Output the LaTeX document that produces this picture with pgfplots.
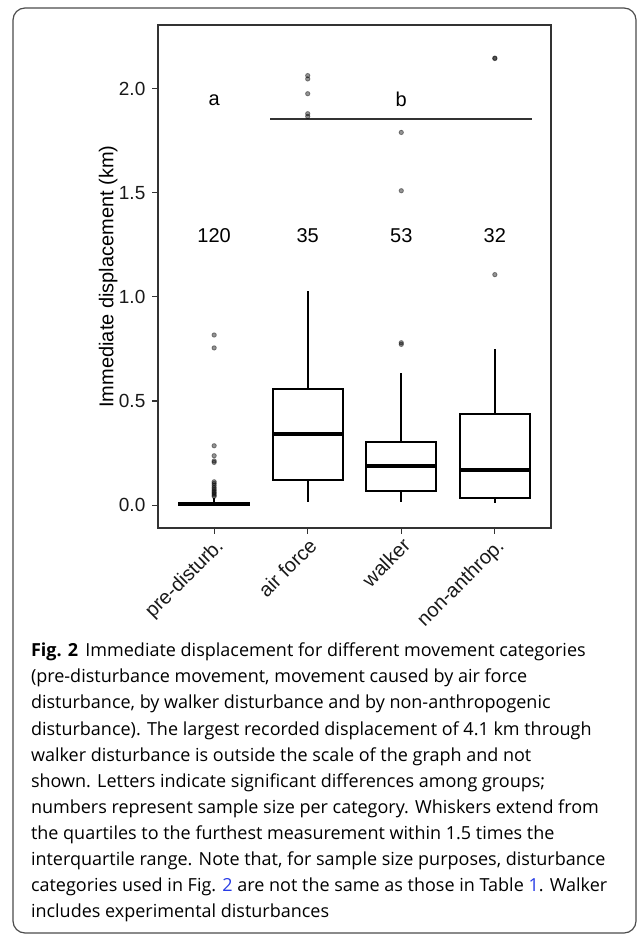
\documentclass[border=0pt]{standalone}
\usepackage{pgfplots}
\pgfplotsset{compat=1.18}
\usepgfplotslibrary{statistics}
\usepackage{fontspec}
\setmainfont{Liberation Sans}
\newfontfamily\capfont{Open Sans}
\definecolor{linkblue}{RGB}{40,60,230}
\definecolor{frame}{RGB}{51,51,51}
\begin{document}
\begin{tikzpicture}
\useasboundingbox (0,0) rectangle (318.5pt,-467.5pt);
\draw[rounded corners=6pt, line width=0.6pt, black!70] (6.5pt,-4pt) rectangle (318pt,-466.5pt);
\begin{axis}[
  at={(79pt,-264pt)}, anchor=south west,
  scale only axis, width=196.5pt, height=251.5pt,
  xmin=0.4, xmax=4.6, ymin=-0.11, ymax=2.306,
  xtick={1,2,3,4},
  xticklabels={pre-disturb., air force, walker, non-anthrop.},
  ytick={0,0.5,1,1.5,2},
  /pgf/number format/assume math mode=true,
  yticklabel style={font=\fontsize{9.5}{11}\selectfont, text=black!90, /pgf/number format/.cd, fixed, fixed zerofill, precision=1},
  xticklabel style={rotate=45, anchor=north east, font=\fontsize{10}{12}\selectfont, text=black!90, inner sep=1pt},
  tick align=outside, xtick pos=left, ytick pos=left,
  major tick length=2.8pt,
  every tick/.style={frame, line width=0.55pt},
  axis line style={frame, line width=0.65pt},
  ylabel={Immediate displacement (km)},
  every axis y label/.style={at={(axis description cs:-0.127,0.5)}, rotate=90, anchor=center, font=\fontsize{10}{12}\selectfont},
  clip=false,
  boxplot/draw direction=y,
  boxplot/box extend=0.75,
  boxplot/whisker extend=0,
  boxplot/every median/.style={line width=2pt},
]
% boxes
\addplot[black, line width=1pt, boxplot prepared={draw position=1, lower whisker=0.0, lower quartile=0.0, median=0.004, upper quartile=0.012, upper whisker=0.034}] coordinates {};
\addplot[black, line width=1pt, boxplot prepared={draw position=2, lower whisker=0.016, lower quartile=0.120, median=0.340, upper quartile=0.556, upper whisker=1.03}] coordinates {};
\addplot[black, line width=1pt, boxplot prepared={draw position=3, lower whisker=0.016, lower quartile=0.069, median=0.186, upper quartile=0.304, upper whisker=0.636}] coordinates {};
\addplot[black, line width=1pt, boxplot prepared={draw position=4, lower whisker=0.008, lower quartile=0.032, median=0.167, upper quartile=0.436, upper whisker=0.75}] coordinates {};
% outliers
\addplot[only marks, mark=*, mark size=1.1pt, draw=none, fill=black, opacity=0.42, mark options={draw=none, fill=black}] coordinates {
(1,0.817) (1,0.755) (1,0.285) (1,0.237) (1,0.212) (1,0.205) (1,0.112) (1,0.104) (1,0.095) (1,0.085) (1,0.077) (1,0.069) (1,0.062) (1,0.055) (1,0.048) (1,0.042)
(2,2.063) (2,2.047) (2,1.976) (2,1.880) (2,1.867)
(3,1.790) (3,1.510) (3,0.780) (3,0.772)
(4,2.147) (4,2.145) (4,1.107)
};
% significance line
\addplot[frame, line width=0.9pt] coordinates {(1.6,1.854) (4.4,1.854)};
\node[font=\fontsize{10}{12}\selectfont] at (axis cs:1,1.947) {a};
\node[font=\fontsize{10}{12}\selectfont] at (axis cs:3,1.947) {b};
\node[font=\fontsize{10}{12}\selectfont] at (axis cs:1,1.295) {120};
\node[font=\fontsize{10}{12}\selectfont] at (axis cs:2,1.295) {35};
\node[font=\fontsize{10}{12}\selectfont] at (axis cs:3,1.295) {53};
\node[font=\fontsize{10}{12}\selectfont] at (axis cs:4,1.295) {32};
\end{axis}
\begin{scope}[every node/.style={anchor=base west, inner sep=0pt, font=\capfont\fontsize{9}{13}\selectfont}]
\node at (15.3pt,-328.35pt) {\textbf{Fig. 2}\hspace{0.4em}Immediate displacement for different movement categories};
\node at (15.3pt,-341.4pt) {(pre-disturbance movement, movement caused by air force};
\node at (15.3pt,-354.45pt) {disturbance, by walker disturbance and by non-anthropogenic};
\node at (15.3pt,-367.5pt) {disturbance). The largest recorded displacement of 4.1 km through};
\node at (15.3pt,-380.55pt) {walker disturbance is outside the scale of the graph and not};
\node at (15.3pt,-393.6pt) {shown. Letters indicate significant differences among groups;};
\node at (15.3pt,-406.65pt) {numbers represent sample size per category. Whiskers extend from};
\node at (15.3pt,-419.7pt) {the quartiles to the furthest measurement within 1.5 times the};
\node at (15.3pt,-432.75pt) {interquartile range. Note that, for sample size purposes, disturbance};
\node at (15.3pt,-445.8pt) {categories used in Fig. \textcolor{linkblue}{2} are not the same as those in Table \textcolor{linkblue}{1}. Walker};
\node at (15.3pt,-458.85pt) {includes experimental disturbances};
\end{scope}
\end{tikzpicture}
\end{document}
